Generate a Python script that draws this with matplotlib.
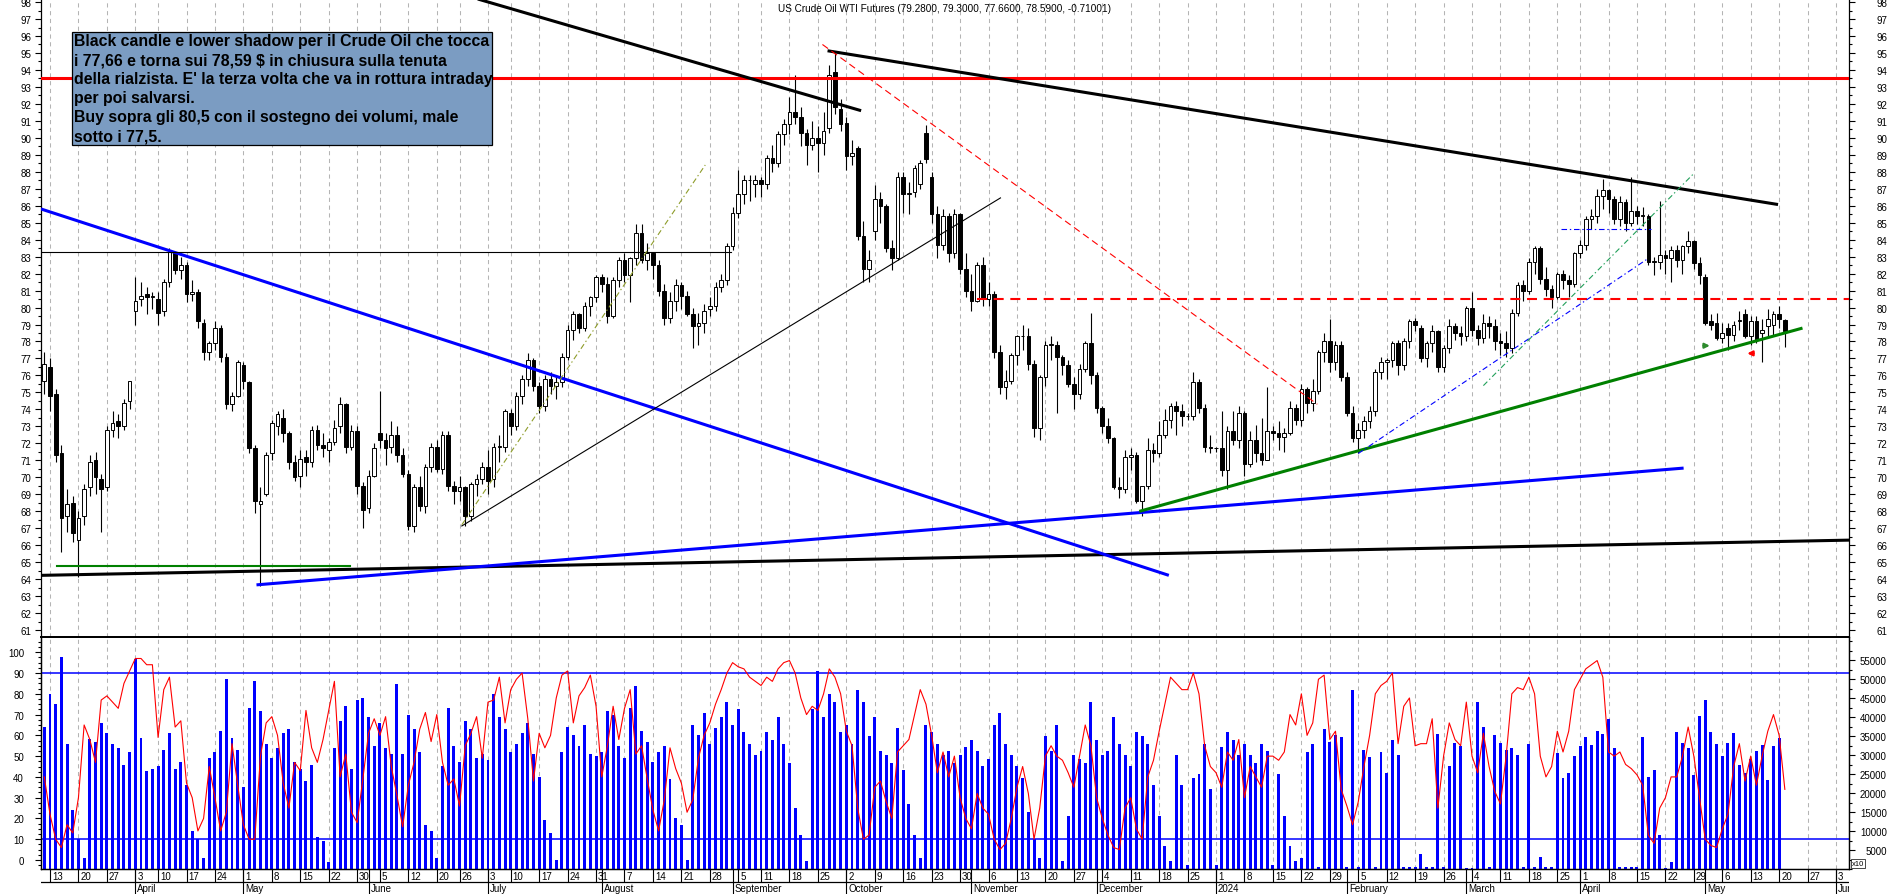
import numpy as np
import pandas as pd
import matplotlib
matplotlib.use('Agg')
import matplotlib.pyplot as plt
from matplotlib.patches import Rectangle
from matplotlib.ticker import MultipleLocator, FixedLocator, FuncFormatter

plt.rcParams['font.family'] = ['Liberation Sans', 'DejaVu Sans']
plt.rcParams['lines.scale_dashes'] = False

title = 'US Crude Oil WTI Futures (79.2800, 79.3000, 77.6600, 78.5900, -0.71001)'
note = ("Black candle e lower shadow per il Crude Oil che tocca\n"
        "i 77,66 e torna sui 78,59 $ in chiusura sulla tenuta\n"
        "della rialzista. E' la terza volta che va in rottura intraday\n"
        "per poi salvarsi.\n"
        "Buy sopra gli 80,5 con il sostegno dei volumi, male\n"
        "sotto i 77,5.")

# sessions on the time axis (data ends 2024-05-21, axis runs on to June)
closed_days = ['2023-04-07', '2023-05-29', '2023-06-19', '2023-07-04', '2023-09-04', '2024-03-29']
sessions = pd.bdate_range('2023-03-10', '2024-06-07')
sessions = sessions[~sessions.isin(pd.to_datetime(closed_days))]

# daily candles, one row per week
opens = [
    75.7,
    76.5, 74.9, 71.4, 67.7, 68.5,
    66.3, 67.7, 69.4, 71.0, 69.9,
    69.4, 72.8, 73.3, 73.0, 74.5,
    79.8, 80.5, 80.8, 80.6,
    80.5, 79.8, 81.5, 83.2, 82.2,
    82.5, 80.8, 80.9, 79.1, 77.4,
    77.9, 78.8, 77.1, 74.3, 74.8,
    76.6, 75.6, 71.7, 68.4, 69.0,
    71.4, 73.0, 73.5, 72.6, 70.9,
    70.1, 71.2, 70.9, 72.8, 71.9,
    71.6, 72.1, 73.0, 74.3, 71.8,
    72.7, 69.5, 68.2, 70.1,
    72.6, 72.2, 71.8, 72.5, 71.3,
    70.2, 67.1, 69.4, 68.3, 70.6,
    71.8, 70.5, 72.5, 69.5,
    69.2, 69.4, 67.7, 69.6, 69.9,
    70.6, 69.9, 71.8, 71.8,
    73.8, 73.0, 74.8, 75.8, 76.9,
    75.4, 74.2, 75.8, 75.4, 75.6,
    77.1, 78.7, 79.6, 78.8, 80.1,
    80.6, 81.8, 81.4, 79.5, 81.6,
    82.8, 81.9, 82.9, 84.4, 82.8,
    83.2, 82.5, 81.0, 79.4, 80.4,
    81.3, 80.7, 79.6, 78.9, 79.1,
    79.9, 80.1, 81.2, 81.6, 83.6,
    85.6, 86.7, 87.5, 87.3,
    87.5, 87.3, 88.8, 88.5, 90.2,
    90.8, 91.5, 91.2, 90.3, 89.6,
    90.0, 89.7, 90.6, 93.9, 91.7,
    90.9, 88.9, 89.4, 84.2, 82.3,
    84.5, 86.4, 86.0, 83.5, 82.9,
    87.7, 86.7, 86.8, 87.3, 90.3,
    87.7, 85.5, 83.7, 85.4, 83.2,
    85.5, 82.3, 81.0, 80.4, 82.5,
    80.5, 80.8, 77.4, 75.3, 75.7,
    77.2, 78.3, 78.3, 76.7, 72.9,
    75.9, 77.8, 77.8, 77.1, 76.6,
    75.5, 74.9, 76.4, 77.9, 76.0,
    74.1, 73.0, 72.3, 69.4, 69.3,
    71.2, 71.3, 68.6, 69.5, 71.6,
    71.4, 72.5, 73.4, 74.2, 73.9,
    73.6, 73.6, 75.6, 74.1, 71.8,
    71.7, 71.7, 70.4, 72.7, 72.2,
    73.8, 70.8, 72.2, 71.4, 71.0,
    72.7, 72.6, 72.4, 72.6, 74.1,
    73.4, 75.2, 74.4, 75.1, 77.4,
    78.0, 76.8, 77.8, 75.9, 73.8,
    72.3, 72.8, 73.3, 73.9, 76.2,
    76.8, 76.9, 77.9, 76.6, 78.0,
    79.2, 78.8, 77.0, 77.9, 78.6,
    76.5, 77.6, 78.9, 78.5, 78.3,
    80.0, 78.7, 78.2, 79.1, 78.9,
    78.0, 77.9, 77.6, 79.7, 81.3,
    81.0, 82.7, 83.5, 81.7, 81.1,
    80.6, 82.0, 81.6, 81.4,
    83.2, 83.7, 85.2, 85.4, 86.6,
    86.9, 86.4, 85.2, 86.2, 85.0,
    85.7, 85.4, 85.4, 82.7, 82.7,
    83.1, 82.9, 83.4, 82.8, 83.6,
    83.9, 82.6, 81.8, 79.2, 79.1,
    78.2, 78.8, 78.4, 79.2, 79.6,
    78.3, 79.2, 78.5, 78.9, 79.0,
    79.6, 79.28,
]
highs = [
    77.4,
    77.0, 75.2, 71.9, 69.3, 68.9,
    68.0, 69.6, 71.3, 71.5, 70.2,
    73.0, 73.9, 73.7, 74.6, 75.7,
    81.8, 81.5, 81.2, 80.9,
    80.9, 81.7, 83.5, 83.3, 83.0,
    82.7, 81.6, 81.1, 79.3, 78.0,
    79.2, 79.0, 77.3, 75.0, 76.9,
    76.8, 75.7, 71.9, 69.4, 71.5,
    73.4, 73.9, 74.0, 72.7, 71.3,
    71.6, 71.6, 73.0, 73.1, 72.6,
    72.3, 73.4, 74.7, 74.4, 73.1,
    73.0, 69.7, 70.4, 72.0,
    75.1, 72.6, 73.3, 73.0, 71.7,
    70.4, 69.6, 70.1, 70.8, 72.0,
    72.2, 72.7, 72.7, 69.8,
    70.1, 69.5, 69.7, 70.2, 70.9,
    71.6, 72.0, 72.5, 74.0,
    74.0, 75.0, 76.0, 77.3, 77.0,
    75.6, 76.0, 76.2, 76.0, 77.3,
    79.0, 79.8, 79.7, 80.3, 80.7,
    81.9, 82.0, 81.8, 81.8, 83.0,
    83.2, 83.0, 84.9, 84.9, 83.8,
    83.3, 82.8, 81.4, 80.9, 81.7,
    81.5, 81.0, 80.0, 79.7, 80.2,
    80.6, 81.5, 82.0, 83.8, 85.9,
    88.1, 87.8, 87.8, 87.8,
    87.7, 89.0, 89.6, 90.4, 91.1,
    92.4, 93.7, 91.8, 90.5, 91.0,
    90.7, 91.5, 94.3, 95.1, 92.3,
    91.2, 89.9, 89.5, 85.1, 83.4,
    87.2, 86.8, 86.1, 84.0, 88.0,
    88.0, 87.4, 88.4, 88.7, 90.75,
    88.0, 86.0, 85.8, 85.6, 85.8,
    85.6, 83.2, 82.0, 82.7, 83.0,
    81.5, 81.0, 77.8, 76.3, 77.3,
    78.4, 79.0, 78.8, 76.9, 76.0,
    78.0, 78.3, 78.0, 77.2, 76.9,
    75.9, 76.7, 78.0, 79.7, 76.2,
    74.2, 73.5, 72.4, 70.0, 71.6,
    71.7, 71.5, 69.5, 72.3, 72.0,
    73.3, 74.0, 74.4, 74.5, 74.3,
    73.8, 76.2, 75.8, 74.3, 72.5,
    71.8, 73.9, 73.0, 73.9, 74.2,
    73.9, 72.7, 73.1, 73.5, 75.3,
    73.0, 73.3, 72.9, 74.5, 74.3,
    75.5, 75.3, 75.8, 77.5, 78.5,
    79.3, 78.0, 78.0, 76.2, 74.2,
    73.2, 73.6, 74.2, 76.4, 77.1,
    77.0, 78.0, 78.1, 78.2, 79.3,
    79.4, 79.0, 78.0, 79.0, 78.7,
    77.8, 79.3, 79.1, 78.9, 80.1,
    80.9, 79.0, 79.6, 79.5, 79.3,
    78.5, 78.6, 79.9, 81.5, 81.6,
    82.9, 83.6, 83.6, 82.4, 81.3,
    82.1, 82.2, 81.9, 83.3,
    84.0, 85.4, 85.8, 87.0, 87.6,
    87.0, 86.6, 86.6, 86.4, 87.7,
    86.0, 85.9, 85.5, 83.0, 86.3,
    83.4, 83.6, 83.7, 83.7, 84.5,
    84.0, 83.0, 82.0, 79.6, 79.7,
    79.1, 79.1, 79.2, 79.8, 79.9,
    79.5, 79.5, 79.3, 79.9, 79.8,
    80.1, 79.30,
]
lows = [
    74.9,
    73.9, 70.9, 65.6, 66.8, 66.2,
    64.1, 67.2, 68.9, 69.0, 66.8,
    69.2, 72.4, 72.3, 72.8, 74.0,
    79.0, 80.1, 79.6, 79.9,
    79.0, 79.5, 81.2, 82.0, 81.7,
    80.3, 80.4, 78.8, 76.9, 76.9,
    77.5, 76.8, 74.0, 73.9, 74.7,
    75.2, 71.4, 67.9, 63.6, 68.9,
    71.0, 72.5, 72.1, 70.5, 69.8,
    69.4, 70.1, 70.6, 71.6, 71.2,
    70.9, 71.9, 72.6, 71.4, 71.6,
    69.0, 67.0, 67.9, 70.0,
    71.7, 70.7, 71.4, 70.9, 70.0,
    66.9, 66.8, 68.0, 67.9, 70.3,
    70.3, 70.2, 69.2, 68.4,
    68.6, 67.1, 67.4, 68.9, 69.6,
    69.0, 69.4, 70.9, 71.5,
    72.5, 72.8, 74.3, 75.4, 75.1,
    73.8, 73.9, 74.9, 74.6, 75.3,
    76.9, 78.1, 78.5, 78.6, 79.5,
    80.3, 80.9, 79.1, 79.4, 81.2,
    81.5, 80.3, 82.5, 82.6, 82.2,
    81.7, 80.7, 79.0, 79.1, 79.8,
    79.9, 79.5, 77.6, 77.8, 78.5,
    79.5, 79.8, 80.9, 81.3, 83.4,
    85.3, 86.1, 86.3, 86.5,
    86.5, 87.0, 88.0, 88.3, 89.6,
    90.2, 90.8, 89.5, 88.4, 89.3,
    88.0, 89.0, 90.3, 91.4, 90.4,
    88.1, 88.4, 84.0, 81.5, 81.5,
    84.0, 85.0, 83.3, 82.2, 82.8,
    85.6, 85.5, 86.5, 87.0, 88.5,
    85.0, 82.9, 83.4, 82.7, 82.9,
    82.0, 80.6, 79.8, 80.3, 80.1,
    80.1, 77.0, 74.9, 74.6, 75.5,
    76.6, 77.5, 76.3, 72.4, 72.2,
    75.4, 76.9, 73.8, 76.0, 75.3,
    74.0, 74.6, 76.2, 75.5, 73.8,
    72.6, 72.0, 69.3, 68.8, 69.1,
    70.4, 68.5, 67.7, 69.3, 70.9,
    71.2, 72.3, 72.9, 72.5, 73.0,
    73.4, 73.4, 73.8, 71.5, 71.4,
    71.5, 70.1, 69.3, 71.9, 71.7,
    70.1, 70.6, 70.9, 70.7, 71.0,
    72.2, 71.6, 71.5, 72.5, 73.1,
    73.0, 73.8, 73.9, 74.9, 76.8,
    76.2, 76.3, 75.7, 73.6, 72.1,
    71.4, 72.3, 72.9, 73.6, 75.8,
    75.8, 76.5, 76.0, 76.3, 77.6,
    78.6, 76.8, 76.5, 77.4, 76.2,
    76.2, 77.3, 78.1, 77.8, 78.0,
    78.3, 77.8, 77.9, 78.2, 77.5,
    77.2, 77.1, 77.3, 79.5, 80.4,
    80.8, 82.0, 81.4, 80.7, 80.0,
    80.5, 81.1, 80.6, 81.2,
    82.9, 83.4, 84.6, 85.0, 85.8,
    85.6, 84.9, 84.8, 84.5, 84.8,
    84.9, 84.8, 82.5, 81.9, 82.3,
    82.0, 81.5, 82.4, 82.0, 83.2,
    82.3, 81.4, 79.0, 78.7, 78.1,
    77.9, 77.5, 78.0, 78.7, 78.2,
    77.8, 77.9, 76.8, 78.2, 78.3,
    78.8, 77.66,
]
closes = [
    76.7,
    74.8, 71.3, 67.6, 68.4, 66.7,
    67.6, 69.3, 70.9, 70.0, 69.3,
    72.8, 73.2, 73.0, 74.4, 75.7,
    80.4, 80.7, 80.6, 80.7,
    79.7, 81.5, 83.3, 82.2, 82.5,
    80.8, 80.9, 79.2, 77.4, 77.9,
    78.8, 77.1, 74.3, 74.8, 76.8,
    75.7, 71.7, 68.6, 68.6, 71.3,
    73.2, 73.7, 72.6, 70.9, 70.0,
    71.1, 70.9, 72.8, 71.9, 71.7,
    72.1, 72.9, 74.3, 71.8, 72.7,
    69.5, 68.1, 70.1, 71.7,
    72.2, 71.7, 72.5, 71.3, 70.2,
    67.1, 69.4, 68.3, 70.6, 71.8,
    70.5, 72.5, 69.5, 69.2,
    69.4, 67.7, 69.6, 69.9, 70.6,
    69.8, 71.8, 71.8, 73.9,
    73.0, 74.8, 75.8, 76.9, 75.4,
    74.2, 75.8, 75.4, 75.6, 77.1,
    78.7, 79.6, 78.8, 80.1, 80.6,
    81.8, 81.4, 79.5, 81.6, 82.8,
    81.9, 82.9, 84.4, 82.8, 83.2,
    82.5, 81.0, 79.4, 80.4, 81.3,
    80.7, 79.6, 78.9, 79.1, 79.8,
    80.1, 81.2, 81.6, 83.6, 85.6,
    86.7, 87.5, 87.5, 87.5,
    87.3, 88.8, 88.5, 90.2, 90.8,
    91.5, 91.2, 90.3, 89.6, 90.0,
    89.7, 90.4, 93.7, 91.8, 90.8,
    88.9, 89.1, 84.2, 82.3, 82.8,
    86.4, 86.0, 83.5, 82.9, 87.7,
    86.7, 86.7, 88.2, 88.5, 88.75,
    85.5, 83.7, 85.4, 83.2, 85.5,
    82.3, 81.0, 80.4, 82.5, 80.5,
    80.8, 77.4, 75.3, 75.7, 77.2,
    78.3, 78.3, 76.7, 72.9, 75.9,
    77.8, 77.8, 77.1, 76.6, 75.5,
    74.9, 76.4, 77.9, 76.0, 74.1,
    73.0, 72.3, 69.4, 69.3, 71.2,
    71.3, 68.6, 69.5, 71.6, 71.4,
    72.5, 73.4, 74.2, 73.9, 73.6,
    73.6, 75.6, 74.1, 71.8, 71.7,
    71.7, 70.4, 72.7, 72.2, 73.8,
    70.8, 72.2, 71.4, 71.0, 72.7,
    72.6, 72.4, 72.6, 74.1, 73.4,
    75.2, 74.4, 75.1, 77.4, 78.0,
    76.8, 77.8, 75.9, 73.8, 72.3,
    72.8, 73.3, 73.9, 76.2, 76.8,
    76.9, 77.9, 76.6, 78.0, 79.2,
    79.0, 77.0, 77.9, 78.6, 76.5,
    77.6, 78.9, 78.5, 78.3, 80.0,
    78.7, 78.2, 79.1, 78.9, 78.0,
    77.9, 77.6, 79.7, 81.3, 81.0,
    82.7, 83.5, 81.7, 81.1, 80.6,
    82.0, 81.6, 81.4, 83.2,
    83.7, 85.2, 85.4, 86.6, 86.9,
    86.4, 85.2, 86.2, 85.0, 85.7,
    85.4, 85.4, 82.7, 82.7, 83.1,
    82.9, 83.4, 82.8, 83.6, 83.9,
    82.6, 81.9, 79.1, 79.0, 78.2,
    78.5, 78.4, 79.0, 79.25, 78.3,
    79.2, 78.1, 78.7, 79.3, 79.6,
    79.3, 78.59,
]

# volume (thousands, right scale) and oscillator (0-100, left scale)
volume = [
    37.4,
    46.1, 43.4, 55.9, 33.0, 15.5,
    7.8, 2.9, 34.1, 33.5, 38.4,
    35.7, 33.0, 31.9, 27.5, 30.8,
    55.4, 34.6, 25.9, 26.4,
    27.0, 31.3, 35.7, 26.4, 28.1,
    22.0, 10.0, 7.8, 2.9, 29.2,
    30.8, 36.3, 49.9, 34.6, 31.3,
    21.5, 42.3, 49.4, 41.7, 33.0,
    29.2, 31.9, 35.7, 36.8, 28.1,
    26.4, 23.1, 27.5, 8.4, 7.3,
    1.8, 31.9, 39.0, 42.8, 26.4,
    44.5, 45.0, 40.1, 32.4,
    38.4, 31.9, 30.2, 48.8, 30.2,
    40.6, 36.8, 30.8, 11.7, 10.0,
    2.9, 27.0, 42.3, 32.4,
    28.1, 39.0, 36.8, 29.2, 30.2,
    28.6, 46.1, 40.1, 36.8,
    30.8, 33.0, 35.7, 38.4, 30.2,
    24.2, 12.8, 9.5, 2.4, 30.8,
    37.4, 35.2, 32.4, 37.9, 30.2,
    29.7, 30.8, 41.7, 40.6, 32.4,
    29.2, 42.3, 48.3, 36.3, 33.5,
    28.1, 30.8, 32.4, 23.7, 13.3,
    11.7, 2.4, 37.9, 35.2, 41.0,
    33, 37, 40, 44, 38,
    42, 36, 33, 30,
    31, 36, 34, 40, 33,
    28, 16, 9, 2, 42,
    52, 40, 46, 44, 36,
    38, 33, 47, 44, 35,
    40, 31, 30, 28, 37,
    26, 17, 9, 3, 38,
    36, 33, 30, 31, 28,
    30, 32, 34, 31, 27,
    29, 38, 41, 33, 30,
    27, 24, 15, 8, 3,
    35, 31, 38, 2, 14,
    30, 29, 28, 44, 34,
    30, 31, 40, 33, 30,
    27, 36, 35, 33, 22,
    14, 6, 2, 30, 22,
    1, 24, 25, 33, 21,
    1, 32, 36, 34, 30,
    33, 30, 28, 33, 31,
    1, 25, 14, 6, 2,
    3, 30.7, 32.9, 0.5, 36.8,
    33.5, 35.3, 34.7, 0.5, 47.2,
    0.5, 31.4, 29.4, 0.5, 30.7,
    25.3, 34.0, 30.0, 0.5, 0.5,
    0.5, 3.9, 0.5, 0.5, 35.5,
    0.5, 27.2, 33.3, 32.5, 0.3,
    0.3, 43.9, 37.5, 0.5, 35.3,
    33.2, 31.3, 31.8, 30.0, 0.5,
    32.9, 0.5, 3.1, 0.5, 0.5,
    30.5, 23.9, 25.3, 29.8,
    32.3, 34.7, 32.6, 36.3, 35.5,
    39.6, 31.8, 0.5, 0.5, 0.5,
    0.5, 34.7, 24.3, 26.1, 8.9,
    0.3, 1.8, 36.0, 33.1, 31.8,
    24.7, 40.2, 44.5, 36.1, 32.9,
    29.8, 33.1, 35.8, 27.5, 25.3,
    28.9, 31.1, 32.6, 23.4, 32.3,
    34.4, 0.0,
]
oscillator = [
    40,
    22, 10, 6, 17, 13,
    30, 65, 58, 47, 77,
    79, 76, 73, 85, 91,
    97, 97, 94, 94,
    59, 82, 88, 64, 67,
    37, 30, 14, 20, 45,
    30, 14, 23, 56, 36,
    17, 10, 10, 50, 66,
    69, 60, 37, 25, 47,
    43, 72, 54, 47, 58,
    72, 86, 40, 51, 23,
    18, 39, 61, 68,
    60, 69, 45, 31, 16,
    36, 47, 63, 71, 57,
    70, 47, 36, 39,
    26, 55, 61, 69, 49,
    76, 77, 88, 66,
    82, 87, 90, 68, 38,
    61, 54, 60, 78, 89,
    91, 66, 79, 83, 89,
    74, 40, 55, 74, 58,
    73, 82, 51, 55, 39,
    24, 14, 29, 54, 44,
    37, 23, 29, 49, 60,
    66, 75, 82, 90, 95,
    93, 92, 88, 86,
    84, 88, 86, 92, 95,
    96, 90, 78, 70, 74,
    72, 80, 92, 88, 80,
    62, 55, 25, 10, 12,
    35, 38, 28, 20, 52,
    55, 58, 70, 82, 75,
    60, 42, 52, 40, 50,
    30, 20, 15, 32, 25,
    22, 10, 5, 8, 20,
    35, 45, 32, 10, 25,
    50, 55, 50, 48, 42,
    35, 50, 65, 55, 30,
    20, 12, 6, 5, 25,
    30, 15, 10, 40, 48,
    62, 75, 88, 85, 82,
    82, 90, 80, 55, 45,
    42, 35, 52, 48, 58,
    30, 45, 40, 35, 50,
    50, 48, 52, 70, 65,
    80, 60, 66, 87, 89,
    58, 62, 34, 26, 17,
    28, 45, 60, 80, 84,
    86, 90, 56, 74, 78,
    55, 56, 56, 68, 25,
    50, 66, 58, 55, 76,
    50, 42, 61, 45, 33,
    27, 50, 80, 83, 82,
    88, 80, 50, 40, 45,
    62, 52, 62, 82,
    87, 92, 94, 96, 88,
    52, 50, 52, 46, 44,
    41, 36, 12, 8, 25,
    30, 40, 40, 50, 64,
    50, 30, 10, 7, 6,
    15, 22, 45, 56, 38,
    50, 36, 50, 62, 70,
    60, 34,
]

# drawn studies: (x0, y0, x1, y1) in session index / price
black_thick = [(76.2, 98.18, 143.6, 91.6), (137.7, 95.13, 304.8, 86.07), (-0.6, 64.22, 318.0, 66.3)]
blue_thick = [(-0.6, 85.81, 197.7, 64.22), (37.3, 63.66, 288.2, 70.54)]
green_thick = [(192.5, 67.99, 309.1, 78.79)]
black_thin = [(73.4, 67.13, 168.1, 86.46), (-0.6, 83.3, 120.8, 83.3)]
green_thin = [(2.2, 64.8, 53.7, 64.8)]
red_dashed = [(136.8, 95.5, 223.8, 74.3)]
dashdot_lines = [((73.4, 67.2, 116.2, 88.4), '#8e9c2a'),
                 ((231.0, 71.4, 282.0, 82.9), '#0000ff'),
                 ((266.6, 84.6, 282.5, 84.6), '#0000ff'),
                 ((253.0, 75.4, 290.0, 87.9), '#22a05a')]
resistance = 93.5
trigger = (164.0, 80.5)

n = len(opens)
assert all(len(s) == n for s in (highs, lows, closes, volume, oscillator))
days = sessions[:n]

# ---------- layout (pixel based) ----------
W, H = 1890, 895
fig = plt.figure(figsize=(W / 100, H / 100), dpi=100)
left_px, right_px = 41.3, 1849.3
sep_px, bot_px = 638.3, 870.0
left = left_px / W
width = (right_px - left_px) / W
ax = fig.add_axes([left, 1 - sep_px / H, width, sep_px / H])
ax_r = ax.twinx()
ax_o = fig.add_axes([left, 1 - bot_px / H, width, (bot_px - sep_px) / H])
ax_v = ax_o.twinx()
ax_d = fig.add_axes([left, 0, width, (H - bot_px) / H])
xlim = (-0.53, 317.33)
for a in (ax, ax_o, ax_v, ax_d):
    a.set_xlim(*xlim)

idx_all = np.arange(len(sessions))
iso = sessions.isocalendar()
wk = (iso.year * 100 + iso.week).values
first_in_week = np.r_[True, wk[1:] != wk[:-1]]
week_idx = idx_all[first_in_week & (sessions >= pd.Timestamp('2023-03-13'))]
mk = sessions.year * 100 + sessions.month
first_in_month = np.r_[False, mk[1:] != mk[:-1]]
month_idx = idx_all[first_in_month]

grid_kw = dict(colors='#b4b4b4', linestyles=(0, (3.0, 2.6)), linewidth=0.75, zorder=0)

# ---------- price panel ----------
x = np.arange(n)
o = np.array(opens); c = np.array(closes); hi = np.array(highs); lo = np.array(lows)
ylo, yhi = 60.57, 98.18
ax.set_ylim(ylo, yhi)
ax_r.set_ylim(ylo, yhi)
ax.vlines(week_idx, ylo, yhi, **grid_kw)
ax.vlines(x, lo, hi, color='black', linewidth=0.8, zorder=3)
body = np.maximum(np.abs(c - o), 0.03)
ax.bar(x, body, bottom=np.minimum(o, c), width=0.64,
       color=np.where(c >= o, 'white', 'black'), edgecolor='black', linewidth=0.7, zorder=4)

ax.axhline(resistance, color='#ff0000', linewidth=2.2, zorder=5)
ax.plot([trigger[0], xlim[1]], [trigger[1], trigger[1]], color='#ff0000', linewidth=1.5,
        linestyle=(0, (7.2, 4.8)), zorder=5)
for x0, y0, x1, y1 in black_thick:
    ax.plot([x0, x1], [y0, y1], color='black', linewidth=2.2, zorder=5, solid_capstyle='butt')
for x0, y0, x1, y1 in blue_thick:
    ax.plot([x0, x1], [y0, y1], color='#0000ff', linewidth=2.2, zorder=5, solid_capstyle='butt')
for x0, y0, x1, y1 in green_thick:
    ax.plot([x0, x1], [y0, y1], color='#008000', linewidth=2.2, zorder=5, solid_capstyle='butt')
for x0, y0, x1, y1 in black_thin:
    ax.plot([x0, x1], [y0, y1], color='black', linewidth=0.8, zorder=5)
for x0, y0, x1, y1 in green_thin:
    ax.plot([x0, x1], [y0, y1], color='#008000', linewidth=1.5, zorder=5)
for x0, y0, x1, y1 in red_dashed:
    ax.plot([x0, x1], [y0, y1], color='#ff0000', linewidth=0.8, linestyle=(0, (5, 3)), zorder=5)
for (x0, y0, x1, y1), col in dashdot_lines:
    ax.plot([x0, x1], [y0, y1], color=col, linewidth=0.8, linestyle=(0, (4, 2, 1, 2)), zorder=5)

ax.annotate('', xy=(293.3, 77.75), xytext=(291.2, 77.75),
            arrowprops=dict(arrowstyle='-|>', color='#2e8b2e', lw=1.6, mutation_scale=7), zorder=6)
ax.annotate('', xy=(298.9, 77.3), xytext=(301.0, 77.3),
            arrowprops=dict(arrowstyle='-|>', color='#ff0000', lw=1.6, mutation_scale=7), zorder=6)

for a in (ax, ax_r):
    a.yaxis.set_major_locator(MultipleLocator(1))
    a.yaxis.set_minor_locator(MultipleLocator(0.5))
    a.tick_params(axis='x', which='both', bottom=False, top=False, labelbottom=False)
    a.tick_params(axis='y', which='both', direction='out', labelsize=7, width=0.8, colors='black')
    a.tick_params(axis='y', which='minor', length=2.3)
ax.tick_params(axis='y', which='major', length=4.5, pad=2.8)
ax_r.tick_params(axis='y', which='major', length=4.5, pad=15)
ax.spines['top'].set_visible(False)
ax.spines['left'].set_linewidth(0.9)
ax.spines['right'].set_linewidth(0.9)
ax.spines['bottom'].set_linewidth(1.2)
for s in ax_r.spines.values():
    s.set_visible(False)

# ---------- lower panel ----------
ax_o.set_ylim(-4.33, 107.2)
ax_v.set_ylim(0, 61.0)
ax_v.set_zorder(1)
ax_o.set_zorder(2)
ax_o.patch.set_visible(False)
ax_v.vlines(week_idx, 0, 61.0, **grid_kw)
ax_v.bar(x, volume, width=0.52, color='#0000ff', zorder=2)
ax_o.axhline(90, color='#0000ff', linewidth=1.1)
ax_o.axhline(10, color='#0000ff', linewidth=1.1)
ax_o.plot(x, oscillator, color='#ff0000', linewidth=0.8)

ax_o.yaxis.set_major_locator(FixedLocator(range(0, 101, 10)))
ax_o.yaxis.set_minor_locator(MultipleLocator(2.5))
ax_o.tick_params(axis='x', which='both', bottom=False, labelbottom=False)
ax_o.tick_params(axis='y', which='both', direction='out', labelsize=7, width=0.8)
ax_o.tick_params(axis='y', which='major', length=4.5, pad=8)
ax_o.tick_params(axis='y', which='minor', length=2.3)
ax_v.yaxis.set_major_locator(FixedLocator(range(5, 56, 5)))
ax_v.yaxis.set_major_formatter(FuncFormatter(lambda v, p: f'{int(round(v * 1000))}'))
ax_v.yaxis.set_minor_locator(MultipleLocator(2.5))
ax_v.tick_params(axis='y', which='both', direction='out', labelsize=7, width=0.8)
ax_v.tick_params(axis='y', which='major', length=4.5, pad=22.5)
ax_v.tick_params(axis='y', which='minor', length=2.3)
for lbl in ax_v.get_yticklabels():
    lbl.set_horizontalalignment('right')
for a in (ax_o, ax_v):
    for s in a.spines.values():
        s.set_linewidth(0.9)
    a.spines['top'].set_linewidth(1.2)

fig.text(1852 / W, 1 - 864.5 / H, 'x10', fontsize=5.5, ha='left', va='center',
         bbox=dict(boxstyle='square,pad=0.15', fc='white', ec='black', lw=0.5))

# ---------- date rows ----------
ax_d.set_ylim(0, 25)
ax_d.axis('off')
ax_d.axhline(12, color='black', linewidth=0.9)
ax_d.vlines(week_idx, 12, 25, color='black', linewidth=0.8)
ax_d.vlines(month_idx, 0, 25, color='black', linewidth=0.8)
for i in week_idx:
    ax_d.text(i + 0.35, 18.3, str(sessions[i].day), fontsize=7, ha='left', va='center', clip_on=True)
for i in month_idx:
    d = sessions[i]
    lab = str(d.year) if d.month == 1 else d.strftime('%B')
    ax_d.text(i + 0.35, 5.8, lab, fontsize=7, ha='left', va='center', clip_on=True)

# ---------- texts ----------
fig.text(945 / W, 1 - 8.5 / H, title, fontsize=7.2, ha='center', va='center')
fig.patches.append(Rectangle((72 / W, 1 - 146 / H), (491.8 - 72) / W, (146 - 33.3) / H,
                             transform=fig.transFigure, facecolor='#7b9cc2', edgecolor='black',
                             linewidth=0.9, zorder=10))
fig.text(74 / W, 1 - 34 / H, note, fontsize=11.4, fontweight='bold', ha='left', va='top',
         linespacing=1.34, zorder=11)

fig.savefig('out.png', dpi=100)
